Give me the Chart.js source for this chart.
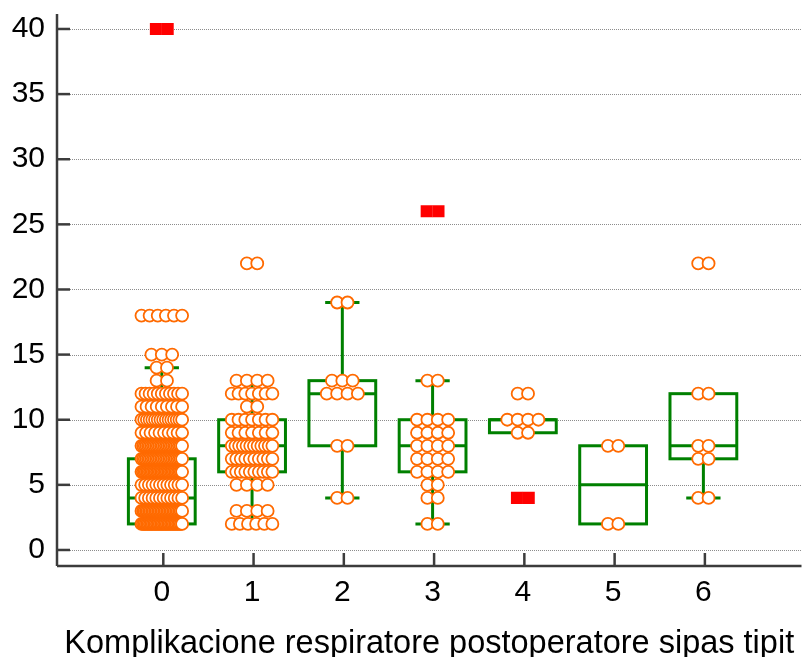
<!DOCTYPE html>
<html>
<head>
<meta charset="utf-8">
<script src="https://cdn.jsdelivr.net/npm/chart.js@4"></script>
<style>
  html, body { margin: 0; padding: 0; background: #fff; }
  canvas { display: block; }
</style>
</head>
<body>
<canvas id="myChart" width="810" height="657"></canvas>
<script>
// categories and axis labels
const categories = [0, 1, 2, 3, 4, 5, 6];
const yTicks = [0, 5, 10, 15, 20, 25, 30, 35, 40];
const xTitle = 'Komplikacione respiratore postoperatore sipas tipit';

// box plot summary per category
const whiskerLow  = [2, 2, 4, 2, 9, 2, 4];
const q1          = [2, 6, 8, 6, 9, 2, 7];
const median      = [4, 8, 12, 8, 10, 5, 8];
const q3          = [7, 10, 13, 10, 10, 8, 12];
const whiskerHigh = [14, 13, 19, 13, 10, 8, 12];

// observations: value and how many cases share it
const dotValues = [
  [2, 3, 4, 5, 6, 7, 8, 9, 10, 11, 12, 13, 14, 15, 18],
  [2, 3, 5, 6, 7, 8, 9, 10, 11, 12, 13, 22],
  [4, 8, 12, 13, 19],
  [2, 4, 5, 6, 7, 8, 9, 10, 13],
  [9, 10, 12],
  [2, 8],
  [4, 7, 8, 12, 22]
];
const dotCounts = [
  [30, 28, 12, 12, 30, 26, 26, 10, 16, 9, 11, 2, 2, 3, 6],
  [6, 4, 4, 10, 10, 12, 7, 7, 2, 7, 4, 2],
  [2, 2, 4, 3, 2],
  [2, 2, 2, 4, 4, 4, 4, 4, 2],
  [2, 4, 2],
  [2, 2],
  [2, 2, 2, 2, 2]
];

// far outliers
const outlierCat    = [0, 3, 4];
const outlierValues = [40, 26, 4];
const outlierCounts = [2, 2, 2];

const FONT = "'Liberation Sans', Arial, sans-serif";
const GREEN = '#008000';
const AXIS = '#3c3c3c';

// side by side offsets (x units) for points sharing a value
function spread(n, step, maxSpan) {
  const gap = n > 1 ? Math.min(step, maxSpan / (n - 1)) : 0;
  const out = [];
  for (let k = 0; k < n; k++) out.push((k - (n - 1) / 2) * gap);
  return out;
}

const dots = [];
categories.forEach((c, i) => {
  dotValues[i].forEach((v, j) => {
    spread(dotCounts[i][j], 0.115, 0.45).forEach(off => dots.push({ x: c + off, y: v }));
  });
});

const outliers = [];
outlierCat.forEach((c, i) => {
  spread(outlierCounts[i], 0.131, 1).forEach(off => outliers.push({ x: c + off, y: outlierValues[i] }));
});

// grid, axes and boxes painted under the points
const boxPlugin = {
  id: 'boxes',
  beforeDatasetsDraw(chart) {
    const { ctx, chartArea, scales: { x, y } } = chart;
    const line = (x1, y1, x2, y2) => { ctx.beginPath(); ctx.moveTo(x1, y1); ctx.lineTo(x2, y2); ctx.stroke(); };
    ctx.save();

    ctx.strokeStyle = '#8c8c8c';
    ctx.lineWidth = 1;
    ctx.setLineDash([1, 1]);
    yTicks.forEach(v => {
      const py = Math.round(y.getPixelForValue(v)) + 0.5;
      line(chartArea.left + 13, py, chartArea.right, py);
    });
    ctx.setLineDash([]);

    ctx.strokeStyle = AXIS;
    ctx.lineWidth = 2.5;
    line(chartArea.left, chartArea.top, chartArea.left, chartArea.bottom);
    line(chartArea.left, chartArea.bottom, chartArea.right, chartArea.bottom);
    yTicks.forEach(v => {
      const py = y.getPixelForValue(v);
      line(chartArea.left, py, chartArea.left + 13, py);
    });
    categories.forEach(c => {
      const px = x.getPixelForValue(c) + 1.5;
      line(px, chartArea.bottom, px, chartArea.bottom - 13);
    });

    ctx.strokeStyle = GREEN;
    ctx.lineWidth = 3;
    ctx.lineJoin = 'miter';
    categories.forEach((c, i) => {
      const l = x.getPixelForValue(c - 0.37), r = x.getPixelForValue(c + 0.37);
      const cl = x.getPixelForValue(c - 0.19), cr = x.getPixelForValue(c + 0.19);
      const cx = x.getPixelForValue(c);
      const top = y.getPixelForValue(q3[i]), bot = y.getPixelForValue(q1[i]);
      const med = y.getPixelForValue(median[i]);
      ctx.strokeRect(l, top, r - l, bot - top);
      line(l, med, r, med);
      if (whiskerHigh[i] > q3[i]) {
        const wy = y.getPixelForValue(whiskerHigh[i]);
        line(cx, top, cx, wy);
        line(cl, wy, cr, wy);
      }
      if (whiskerLow[i] < q1[i]) {
        const wy = y.getPixelForValue(whiskerLow[i]);
        line(cx, bot, cx, wy);
        line(cl, wy, cr, wy);
      }
    });
    ctx.restore();
  }
};

const config = {
  type: 'scatter',
  data: {
    datasets: [
      {
        data: dots,
        pointRadius: 6,
        pointBorderWidth: 1.8,
        pointBorderColor: '#ff6a00',
        pointBackgroundColor: '#ffffff'
      },
      {
        data: outliers,
        pointStyle: 'rect',
        pointRadius: 8.5,
        pointBorderWidth: 0,
        pointBorderColor: '#ff0000',
        pointBackgroundColor: '#ff0000'
      }
    ]
  },
  options: {
    responsive: false,
    animation: false,
    events: [],
    layout: { padding: { top: 14, left: 0, right: 0, bottom: 0 } },
    plugins: { legend: { display: false }, tooltip: { enabled: false } },
    scales: {
      x: {
        type: 'linear',
        min: -1.161,
        max: 7.087,
        afterBuildTicks: s => { s.ticks = categories.map(v => ({ value: v })); },
        afterFit: s => { s.height = 91; s.paddingLeft = 0; s.paddingRight = 0; },
        grid: { display: false, drawTicks: false },
        border: { display: false },
        ticks: { color: '#000', font: { family: FONT, size: 30 }, padding: 9 },
        title: {
          display: true,
          text: xTitle,
          color: '#000',
          font: { family: FONT, size: 32.5, lineHeight: 1 },
          padding: { top: 0, bottom: -3 }
        }
      },
      y: {
        type: 'linear',
        min: -1.23,
        max: 41.15,
        afterBuildTicks: s => { s.ticks = yTicks.map(v => ({ value: v })); },
        afterFit: s => { s.width = 57; s.paddingTop = 0; s.paddingBottom = 0; },
        grid: { display: false, drawTicks: false },
        border: { display: false },
        ticks: { color: '#000', font: { family: FONT, size: 30 }, padding: 12 }
      }
    }
  },
  plugins: [boxPlugin]
};

const myChart = new Chart(document.getElementById('myChart'), config);
</script>
</body>
</html>
